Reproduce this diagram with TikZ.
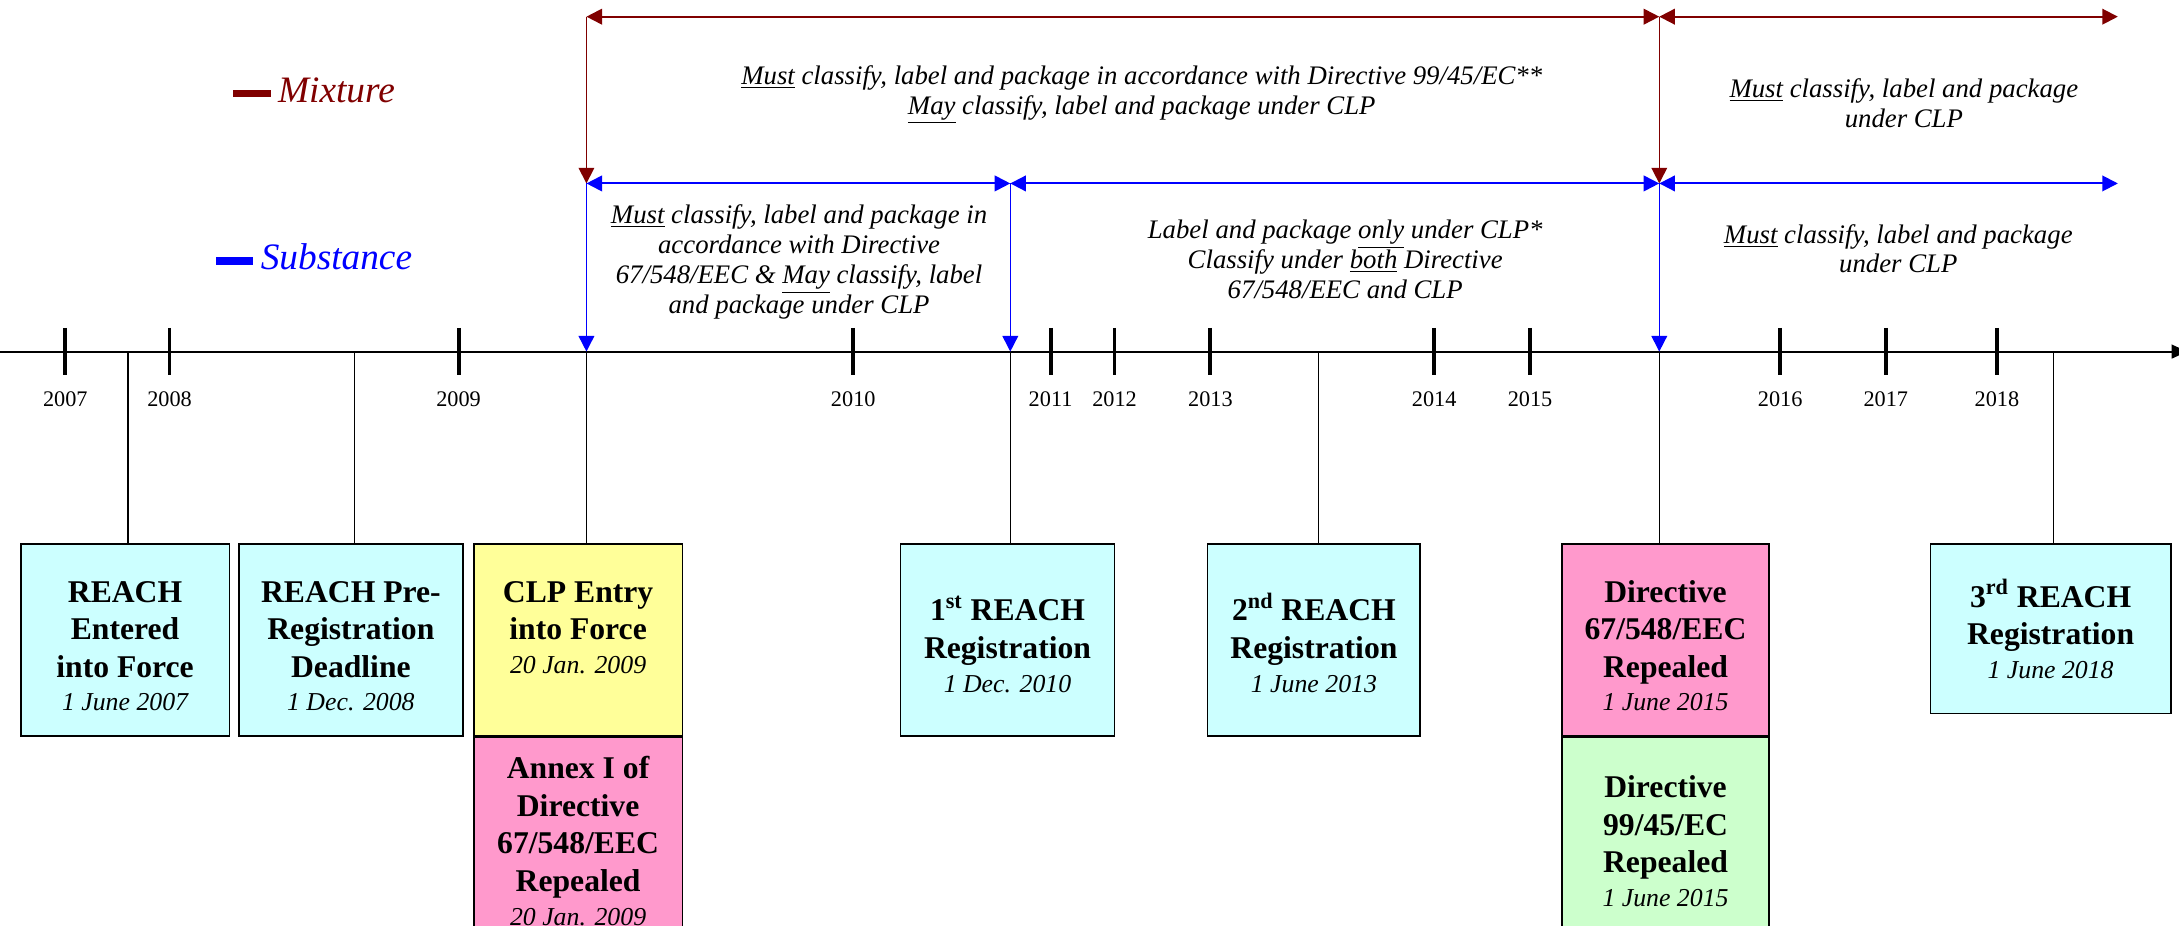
\documentclass[tikz,border=0pt]{standalone}
\usepackage{fontspec}
\setmainfont{Liberation Serif}
\usepackage{xcolor}
\usepackage{tikz}
\usetikzlibrary{positioning, arrows.meta}

\definecolor{mixred}{HTML}{800000}
\definecolor{subblue}{HTML}{0000FF}
\definecolor{reachcyan}{HTML}{CCFFFF}
\definecolor{clpyellow}{HTML}{FFFF99}
\definecolor{repealpink}{HTML}{FF99CC}
\definecolor{repealgreen}{HTML}{CCFFCC}

\newcommand{\evdate}[1]{{\mdseries\itshape\fontsize{13.2}{16}\selectfont #1}}
\newcommand{\evtop}{\rule{0pt}{17pt}}
\newcommand{\keydash}{\rule[0.14em]{1em}{0.2em}\hspace{0.2em}}

\begin{document}
\begin{tikzpicture}[
    timeline/.style={line width=1pt, black, -{Triangle[length=8pt, width=7pt]}},
    yeartick/.style={line width=2pt, black},
    yearlabel/.style={font=\fontsize{11.4}{13}\selectfont},
    stemline/.style={line width=0.7pt, black},
    eventbox/.style={draw=black, line width=0.8pt, fill=#1, anchor=north, align=center,
        minimum height=3.45cm, inner sep=1pt, font=\fontsize{16.2}{19.2}\selectfont\bfseries},
    spanarrow/.style={line width=1pt, #1, {Triangle[length=8pt, width=8pt]}-{Triangle[length=8pt, width=8pt]}},
    droparrow/.style={line width=0.8pt, #1, -{Triangle[length=8pt, width=8pt]}},
    note/.style={font=\fontsize{13.7}{15.3}\selectfont\itshape, align=center},
    keylabel/.style={text=#1, font=\fontsize{19.1}{22}\selectfont\itshape}
]

\useasboundingbox (0,-10.325) rectangle (39.2,6.325);
\clip (0,-10.325) rectangle (39.2,6.325);

% time axis
\coordinate (t0) at (0,0);
\coordinate (t1) at (39.35,0);
\draw[timeline] (t0) -- (t1);

\foreach \x/\yr in {1.175/2007, 3.05/2008, 8.25/2009, 15.35/2010, 18.9/2011, 20.05/2012,
                    21.775/2013, 25.8/2014, 27.525/2015, 32.025/2016, 33.925/2017, 35.925/2018} {
    \draw[yeartick] (\x,0.425) -- (\x,-0.425);
    \node[yearlabel] (yr\yr) at (\x,-0.85) {\yr};
}

% event dates on the axis
\foreach \n/\x in {1/2.3, 2/6.375, 3/10.55, 5/18.175, 6/23.725, 7/29.85, 9/36.94}
    \coordinate (e\n) at (\x,0);

% event boxes
\node[eventbox=reachcyan, minimum width=3.75cm] (b1) at (2.25,-3.45)
    {\evtop REACH\\Entered\\into Force\\[-2pt]\evdate{1 June 2007}};
\node[eventbox=reachcyan, minimum width=4.025cm] (b2) at (6.3125,-3.45)
    {\evtop REACH Pre-\\Registration\\Deadline\\[-2pt]\evdate{1 Dec. 2008}};
\node[eventbox=clpyellow, minimum width=3.75cm] (b3) at (10.4,-3.45)
    {\evtop CLP Entry\\into Force\\[-2pt]\evdate{20 Jan. 2009}\\\phantom{X}};
\node[eventbox=repealpink, minimum width=3.75cm, minimum height=3.725cm, below=0pt of b3] (b4)
    {Annex I of\\Directive\\67/548/EEC\\Repealed\\[-2pt]\evdate{20 Jan. 2009}};
\node[eventbox=reachcyan, minimum width=3.85cm] (b5) at (18.125,-3.45)
    {\evtop 1\textsuperscript{st} REACH\\Registration\\[-2pt]\evdate{1 Dec. 2010}};
\node[eventbox=reachcyan, minimum width=3.825cm] (b6) at (23.6375,-3.45)
    {\evtop 2\textsuperscript{nd} REACH\\Registration\\[-2pt]\evdate{1 June 2013}};
\node[eventbox=repealpink, minimum width=3.725cm] (b7) at (29.9625,-3.45)
    {\evtop Directive\\67/548/EEC\\Repealed\\[-2pt]\evdate{1 June 2015}};
\node[eventbox=repealgreen, minimum width=3.725cm, minimum height=3.725cm, below=0pt of b7] (b8)
    {Directive\\99/45/EC\\Repealed\\[-2pt]\evdate{1 June 2015}};
\node[eventbox=reachcyan, minimum width=4.325cm, minimum height=3.05cm] (b9) at (36.89,-3.45)
    {3\textsuperscript{rd} REACH\\Registration\\[-2pt]\evdate{1 June 2018}};

\foreach \n in {1,2,3,5,6,7,9}
    \draw[stemline] (e\n) -- (e\n |- b\n.north);

% mixture and substance periods
\coordinate (m0) at (10.55,6.025);
\coordinate (m1) at (29.85,6.025);
\coordinate (m2) at (38.1,6.025);
\coordinate (s0) at (10.55,3.025);
\coordinate (s1) at (18.175,3.025);
\coordinate (s2) at (29.85,3.025);
\coordinate (s3) at (38.1,3.025);

\draw[spanarrow=mixred] (m0) -- (m1);
\draw[spanarrow=mixred] (m1) -- (m2);
\draw[droparrow=mixred] (m0) -- (s0);
\draw[droparrow=mixred] (m1) -- (s2);

\draw[spanarrow=subblue] (s0) -- (s1);
\draw[spanarrow=subblue] (s1) -- (s2);
\draw[spanarrow=subblue] (s2) -- (s3);
\draw[droparrow=subblue] (s0) -- (e3);
\draw[droparrow=subblue] (s1) -- (e5);
\draw[droparrow=subblue] (s2) -- (e7);

\node[note] (mixA) at (20.54,4.625)
    {\underline{Must} classify, label and package in accordance with Directive 99/45/EC**\\
     \underline{May} classify, label and package under CLP};
\node[note] (mixB) at (34.25,4.475)
    {\underline{Must} classify, label and package\\under CLP};
\node[note] (subA) at (14.375,1.6125)
    {\underline{Must} classify, label and package in\\accordance with Directive\\
     67/548/EEC \& \underline{May} classify, label\\and package under CLP};
\node[note] (subB) at (24.2,1.6625)
    {Label and package \underline{only} under CLP*\\Classify under \underline{both} Directive\\67/548/EEC and CLP};
\node[note] (subC) at (34.15,1.85)
    {\underline{Must} classify, label and package\\under CLP};

% legend
\node[keylabel=mixred] (mixkey) at (5.65,4.7) {\keydash Mixture};
\node[keylabel=subblue] (subkey) at (5.65,1.7) {\keydash Substance};

\end{tikzpicture}
\end{document}
